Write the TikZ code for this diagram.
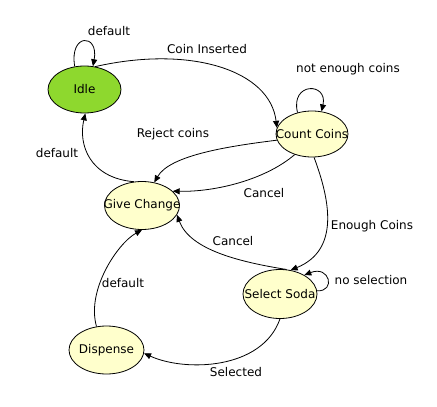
\documentclass[tikz,border=0pt]{standalone}
\usepackage{fontspec}
\setmainfont{DejaVu Sans}
\usetikzlibrary{arrows.meta,shapes.geometric}
\definecolor{idlegreen}{RGB}{142,216,46}
\definecolor{paleyellow}{RGB}{255,255,204}
\tikzset{
  state/.style={ellipse,draw=black,line width=0.8pt,inner sep=0pt,
    minimum width=74pt,minimum height=48pt,fill=paleyellow},
  lbl/.style={inner sep=0pt,font=\fontsize{12}{14}\selectfont},
  arr/.style={draw=black,line width=0.8pt,-{Triangle[length=7pt,width=6pt]}}
}
\begin{document}
\begin{tikzpicture}[x=1pt,y=-1pt]
\useasboundingbox (0,0) rectangle (437,407);
\node[state,fill=idlegreen,minimum width=73pt,minimum height=47pt] (idle) at (84.5,89.5) {};
\node[state,minimum width=72pt,minimum height=46pt] (cc) at (312,134) {};
\node[state,minimum width=75pt] (gc) at (142,205.5) {};
\node[state,minimum height=49pt] (ss) at (280,294) {};
\node[state,minimum width=75pt] (disp) at (106.5,350) {};
\node[lbl] (tidle) at (idle) {Idle};
\node[lbl] (tcc) at (cc) {Count Coins};
\node[lbl] (tgc) at (gc) {Give Change};
\node[lbl] (tss) at (ss) {Select Soda};
\node[lbl] (tdisp) at (disp) {Dispense};
% edges
\draw[arr] (idle.113) .. controls (69,33) and (99,33) .. (idle.70);
\draw[arr] (idle.65) .. controls (190,45) and (270,70) .. (cc.170);
\draw[arr] (cc.124) .. controls (290,82) and (328,82) .. (cc.67);
\draw[arr] (cc.190) .. controls (230,146) and (170,155) .. (gc.62);
\draw[arr] (cc.230) .. controls (265,180) and (215,192) .. (gc.25);
\draw[arr] (cc.275) .. controls (330,200) and (340,250) .. (ss.66);
\draw[arr] (ss.5) .. controls (336,292) and (330,265) .. (ss.38);
\draw[arr] (ss.75) .. controls (240,262) and (190,250) .. (gc.-15);
\draw[arr] (gc.109) .. controls (90,178) and (78,145) .. (idle.-88);
\draw[arr] (disp.113) .. controls (86,290) and (118,243) .. (gc.-90);
\draw[arr] (ss.-90) .. controls (262,370) and (185,372) .. (disp.-5);
% labels
\node[lbl] (l1) at (109,31) {default};
\node[lbl] (l2) at (207,49) {Coin Inserted};
\node[lbl] (l3) at (348,69) {not enough coins};
\node[lbl] (l4) at (173,134) {Reject coins};
\node[lbl] (l5) at (57,153) {default};
\node[lbl] (l6) at (264,193) {Cancel};
\node[lbl] (l7) at (372,226) {Enough Coins};
\node[lbl] (l8) at (233,241) {Cancel};
\node[lbl] (l9) at (371,280) {no selection};
\node[lbl] (l10) at (123,283) {default};
\node[lbl] (l11) at (236,372) {Selected};
\end{tikzpicture}
\end{document}
